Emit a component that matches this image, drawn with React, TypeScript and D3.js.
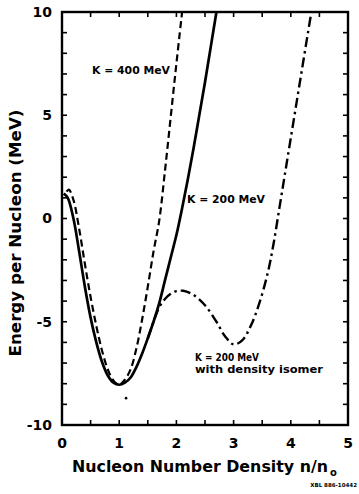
import React from 'react'
import * as d3 from 'd3'

// curves: density n/n0 vs energy per nucleon (MeV)
const solidN = [0.03, 0.1, 0.2, 0.3, 0.4, 0.5, 0.6, 0.7, 0.8, 0.9, 1.0, 1.1, 1.2, 1.3, 1.4, 1.5, 1.6, 1.7, 1.8, 1.9, 2.0, 2.1, 2.2, 2.3, 2.4, 2.5, 2.6, 2.7]
const solidE = [1.2, 1.0, 0.0, -1.6, -3.3, -4.8, -6.0, -6.95, -7.6, -7.95, -8.05, -7.95, -7.7, -7.2, -6.55, -5.8, -5.0, -4.1, -3.0, -1.9, -0.8, 0.5, 1.9, 3.4, 5.0, 6.6, 8.3, 10]

const dashN = [0.08, 0.12, 0.2, 0.3, 0.4, 0.5, 0.6, 0.7, 0.8, 0.9, 1.0, 1.1, 1.2, 1.3, 1.4, 1.5, 1.6, 1.7, 1.8, 1.9, 2.0, 2.1]
const dashE = [1.3, 1.4, 0.9, -0.5, -2.2, -3.8, -5.2, -6.4, -7.3, -7.85, -8.05, -7.8, -7.3, -6.3, -4.9, -3.3, -1.6, -0.1, 2.3, 4.9, 7.5, 10]

const isomerN = [1.5, 1.6, 1.7, 1.8, 1.9, 2.0, 2.12, 2.3, 2.5, 2.7, 2.85, 3.0, 3.15, 3.3, 3.45, 3.6, 3.7, 3.8, 3.9, 4.0, 4.1, 4.2, 4.3, 4.36]
const isomerE = [-5.8, -5.0, -4.3, -3.9, -3.65, -3.52, -3.5, -3.7, -4.2, -5.0, -5.7, -6.1, -5.9, -5.2, -4.1, -2.6, -1.2, 0.5, 2.2, 3.9, 5.6, 7.3, 9.0, 10]

const strayN = [1.12]
const strayE = [-8.7]

const xTicks = [0, 1, 2, 3, 4, 5]
const yTicks = [-10, -5, 0, 5, 10]

const W = 359
const H = 494
const margin = { top: 12, right: 11, bottom: 69, left: 62 }
const font = '"DejaVu Sans", sans-serif'

export default function App() {
  const x = d3.scaleLinear().domain([0, 5]).range([margin.left, W - margin.right])
  const y = d3.scaleLinear().domain([-10, 10]).range([H - margin.bottom, margin.top])

  const line = d3.line<[number, number]>()
    .x(d => x(d[0]))
    .y(d => y(d[1]))
    .curve(d3.curveCatmullRom.alpha(0.5))

  const pts = (ns: number[], es: number[]) => ns.map((n, i) => [n, es[i]] as [number, number])

  const x0 = x(0), x1 = x(5), y0 = y(-10), y1 = y(10)
  const halfTicks = d3.range(0.5, 5, 0.5)
  const yMinor = d3.range(-9, 10, 1)

  return (
    <svg width={W} height={H} style={{ position: 'absolute', left: 0, top: 0, background: '#fff' }}>
      <defs>
        <clipPath id='plot'>
          <rect x={x0} y={y1} width={x1 - x0} height={y0 - y1} />
        </clipPath>
      </defs>

      {/* ticks, inward on all four sides */}
      <g stroke='#000' strokeWidth={1.6}>
        {halfTicks.map(t => <line key={'b' + t} x1={x(t)} x2={x(t)} y1={y0} y2={y0 - 5} />)}
        {halfTicks.map(t => <line key={'t' + t} x1={x(t)} x2={x(t)} y1={y1} y2={y1 + 5} />)}
        {yMinor.map(t => <line key={'l' + t} x1={x0} x2={x0 + 5} y1={y(t)} y2={y(t)} />)}
        {yMinor.map(t => <line key={'r' + t} x1={x1} x2={x1 - 5} y1={y(t)} y2={y(t)} />)}
      </g>
      <rect x={x0} y={y1} width={x1 - x0} height={y0 - y1} fill='none' stroke='#000' strokeWidth={2.4} />

      <g clipPath='url(#plot)' fill='none' stroke='#000' strokeLinecap='butt'>
        <path d={line(pts(solidN, solidE)) || ''} strokeWidth={2.7} />
        <path d={line(pts(dashN, dashE)) || ''} strokeWidth={2.2} strokeDasharray='7 4' />
        <path d={line(pts(isomerN, isomerE)) || ''} strokeWidth={2.4} strokeDasharray='10 4 2.5 4' />
      </g>
      {strayN.map((n, i) => <circle key={i} cx={x(n)} cy={y(strayE[i])} r={1.3} fill='#000' />)}

      {/* tick labels */}
      <g fontFamily={font} fontWeight='bold' fontSize={14} fill='#000'>
        {yTicks.map(t => (
          <text key={t} x={x0 - 10} y={y(t)} dy='0.35em' textAnchor='end'>{t}</text>
        ))}
        {xTicks.map(t => (
          <text key={t} x={x(t)} y={y0 + 18} dy='0.35em' textAnchor='middle'>{t}</text>
        ))}
      </g>

      <g fontFamily={font} fontWeight='bold' fontSize={15}>
        <text x={72} y={467} dy='0.35em' textLength={256} lengthAdjust='spacingAndGlyphs'>Nucleon Number Density n/n</text>
        <text x={330} y={472} dy='0.35em' fontSize={10}>o</text>
        <text transform={`translate(16, 233) rotate(-90)`} textAnchor='middle' dy='0.35em'
          textLength={247} lengthAdjust='spacingAndGlyphs'>
          Energy per Nucleon (MeV)
        </text>
      </g>

      <g fontFamily={font} fontWeight='bold' fontSize={10} fill='#000'>
        <text x={92} y={y(7.15)} dy='0.35em' textLength={78} lengthAdjust='spacingAndGlyphs'>K = 400 MeV</text>
        <text x={187} y={y(0.92)} dy='0.35em' textLength={78} lengthAdjust='spacingAndGlyphs'>K = 200 MeV</text>
        <text x={195} y={y(-6.75)} dy='0.35em' textLength={64} lengthAdjust='spacingAndGlyphs'>K = 200 MeV</text>
        <text x={195} y={y(-7.3)} dy='0.35em' textLength={128} lengthAdjust='spacingAndGlyphs'>with density isomer</text>
      </g>
      <text x={W - 2} y={485} dy='0.35em' textAnchor='end' fontFamily={font} fontWeight='bold' fontSize={5.5}>XBL 886-10442</text>
    </svg>
  )
}
